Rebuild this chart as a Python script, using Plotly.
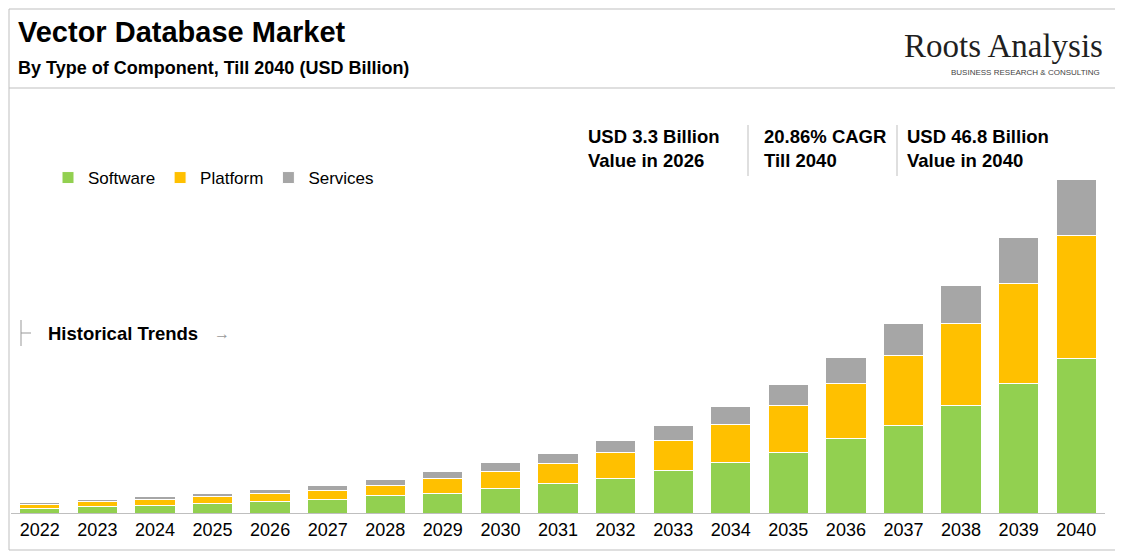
import plotly.graph_objects as go

years = [str(y) for y in range(2022, 2041)]
software = [0.7,0.9,1.1,1.3,1.6,1.9,2.4,2.8,3.4,4.1,4.9,5.9,7.1,8.5,10.5,12.3,15.0,18.1,21.7]
platform = [0.55,0.65,0.8,1.0,1.2,1.3,1.5,2.0,2.4,2.9,3.6,4.3,5.3,6.6,7.7,9.7,11.6,14.1,17.2]
services = [0.25,0.3,0.35,0.4,0.5,0.7,0.8,1.0,1.3,1.4,1.7,2.1,2.5,2.9,3.6,4.5,5.3,6.4,7.8]

W, H = 1123, 553
OFF = 8  # page body margin
PL, PR, PT, PB = 11, 1105, 88, 513  # desired plot box in screen px
fig = go.Figure()
for name, vals, col in [("Software", software, "#92d050"), ("Platform", platform, "#ffc000"), ("Services", services, "#a6a6a6")]:
    fig.add_bar(x=years, y=vals, name=name, marker=dict(color=col, line=dict(color="white", width=1)))

PW, PH = PR - PL, PB - PT
def fx(x): return (x - PL) / PW
def fy(y): return (PB - y) / PH
def L(x0, y0, x1, y1, c="#bfbfbf"):
    return dict(type="line", xref="paper", yref="paper", x0=fx(x0), x1=fx(x1), y0=fy(y0), y1=fy(y1), line=dict(color=c, width=1))
shapes = [
    dict(type="rect", xref="paper", yref="paper", x0=fx(9), y0=fy(550), x1=fx(1121), y1=fy(9), line=dict(color="#bfbfbf", width=1)),
    L(9, 88, 1121, 88),
    L(748, 125, 748, 176), L(897, 125, 897, 176),
    L(21, 320, 21, 346, "#999"), L(21, 333, 31, 333, "#999"),
]
F = "Arial, Liberation Sans, sans-serif"
def ann(x, y, text, size, color="black", anchor="left", family=F):
    return dict(xref="paper", yref="paper", x=fx(x), y=fy(y), text=text, showarrow=False, xanchor=anchor, yanchor="middle", align="left", font=dict(size=size, color=color, family=family))
anns = [
    ann(16, 32, "<b>Vector Database Market</b>", 29),
    ann(16, 68, "<b>By Type of Component, Till 2040 (USD Billion)</b>", 18),
    ann(1105, 46, "Roots Analysis", 33, "#1f1f1f", "right", "Liberation Serif, serif"),
    ann(1102, 72, "BUSINESS RESEARCH & CONSULTING", 8, "#444", "right"),
    ann(586, 148, "<b>USD 3.3 Billion<br>Value in 2026</b>", 18.5),
    ann(762, 148, "<b>20.86% CAGR<br>Till 2040</b>", 18.5),
    ann(905, 148, "<b>USD 46.8 Billion<br>Value in 2040</b>", 18.5),
    ann(46, 333, "<b>Historical Trends</b>", 18.5),
    ann(212, 333, "→", 16, "#999"),
]
fig.update_layout(
    width=W, height=H, autosize=False, barmode="stack", bargap=0.3,
    margin=dict(l=PL - OFF, r=W - (PR - OFF), t=PT - OFF, b=H - (PB - OFF), pad=0),
    plot_bgcolor="white", paper_bgcolor="white",
    shapes=shapes, annotations=anns,
    legend=dict(orientation="h", x=fx(48), y=fy(178), xanchor="left", yanchor="middle",
                font=dict(size=17, family=F, color="black"), traceorder="normal", itemwidth=30),
    xaxis=dict(tickfont=dict(size=18, family=F, color="black"), showline=True, linecolor="#bfbfbf", ticks=""),
    yaxis=dict(visible=False, range=[0, 59.5]),
)
fig.write_html("out.html", config={"responsive": False}, default_width="1123px", default_height="553px")
